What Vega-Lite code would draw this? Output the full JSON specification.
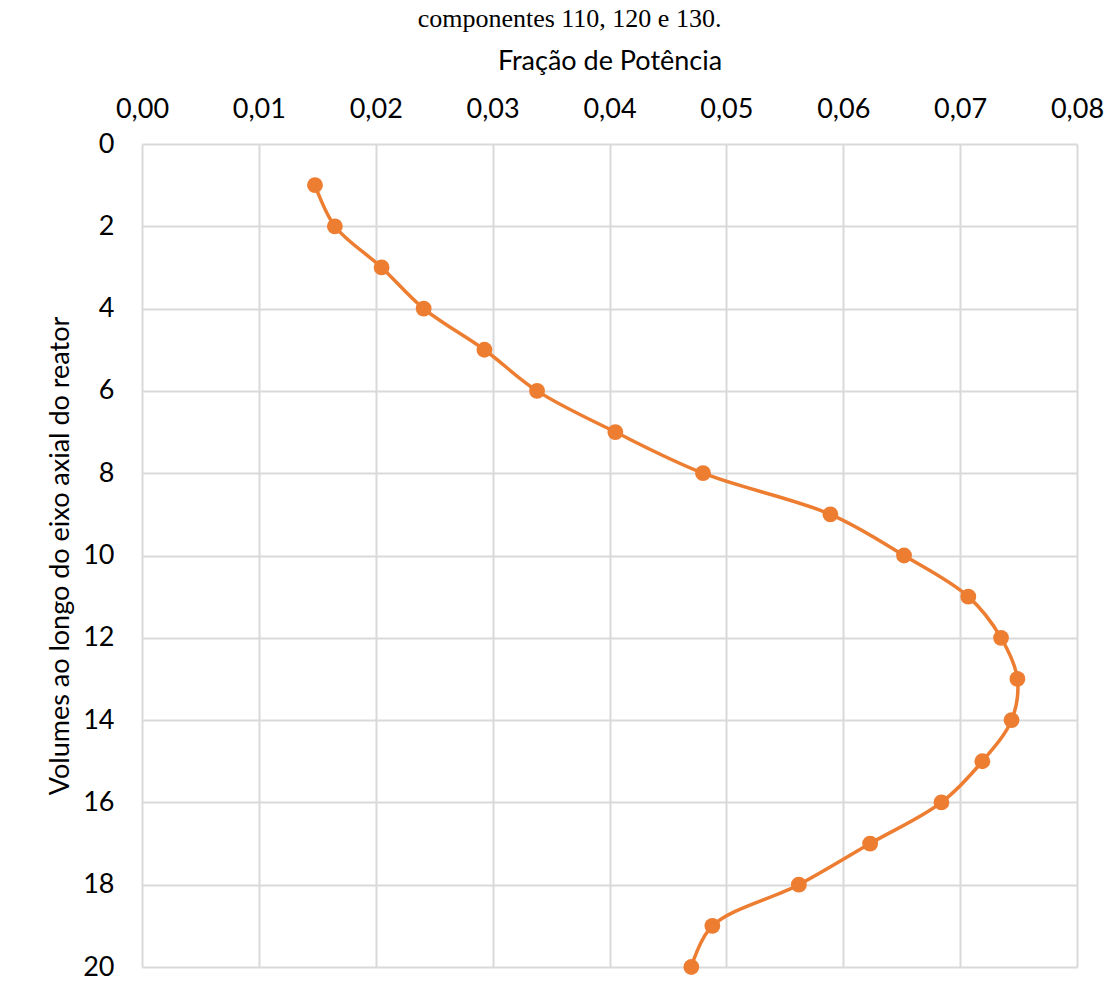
{
  "$schema": "https://vega.github.io/schema/vega-lite/v6.json",
  "autosize": {"type": "none"},
  "width": 935,
  "height": 823,
  "padding": {"left": 142, "top": 144, "right": 42, "bottom": 25},
  "background": "white",
  "title": {"text": "componentes 110, 120 e 130.", "font": "Liberation Serif", "fontSize": 26, "fontWeight": "normal", "color": "black", "anchor": "middle", "dy": -11, "dx": -40},
  "config": {"view": {"stroke": null}, "font": "Lato"},
  "data": {"values": [
    {"vol": 1, "frac": 0.0148},
    {"vol": 2, "frac": 0.0165},
    {"vol": 3, "frac": 0.0205},
    {"vol": 4, "frac": 0.0241},
    {"vol": 5, "frac": 0.0293},
    {"vol": 6, "frac": 0.0338},
    {"vol": 7, "frac": 0.0405},
    {"vol": 8, "frac": 0.0480},
    {"vol": 9, "frac": 0.0589},
    {"vol": 10, "frac": 0.0652},
    {"vol": 11, "frac": 0.0707},
    {"vol": 12, "frac": 0.0735},
    {"vol": 13, "frac": 0.0749},
    {"vol": 14, "frac": 0.0744},
    {"vol": 15, "frac": 0.0719},
    {"vol": 16, "frac": 0.0684},
    {"vol": 17, "frac": 0.0623},
    {"vol": 18, "frac": 0.0562},
    {"vol": 19, "frac": 0.0488},
    {"vol": 20, "frac": 0.0470}
  ]},
  "encoding": {
    "x": {"field": "frac", "type": "quantitative",
      "scale": {"domain": [0, 0.08], "nice": false, "zero": false},
      "axis": {"orient": "top", "title": "Fração de Potência", "values": [0, 0.01, 0.02, 0.03, 0.04, 0.05, 0.06, 0.07, 0.08],
        "labelExpr": "replace(format(datum.value, '.2f'), '.', ',')",
        "labelFontSize": 27, "titleFontSize": 27, "labelFont": "Lato", "titleFont": "Lato", "titleFontWeight": "normal",
        "labelColor": "black", "titleColor": "black", "ticks": false, "domain": false,
        "gridColor": "#d9d9d9", "gridWidth": 2, "labelPadding": 21, "titlePadding": 20, "labelFlush": false}},
    "y": {"field": "vol", "type": "quantitative",
      "scale": {"domain": [0, 20], "reverse": true, "nice": false},
      "axis": {"title": "Volumes ao longo do eixo axial do reator", "values": [0, 2, 4, 6, 8, 10, 12, 14, 16, 18, 20],
        "labelFontSize": 27, "titleFontSize": 27, "labelFont": "Lato", "titleFont": "Lato", "titleFontWeight": "normal",
        "labelColor": "black", "titleColor": "black", "ticks": false, "domain": false,
        "gridColor": "#d9d9d9", "gridWidth": 2, "labelPadding": 28, "titlePadding": 8}}
  },
  "layer": [
    {"mark": {"type": "line", "color": "#ED7D31", "strokeWidth": 3.5, "interpolate": "catmull-rom"},
     "encoding": {"order": {"field": "vol", "type": "quantitative"}}},
    {"mark": {"type": "point", "filled": true, "color": "#ED7D31", "size": 250, "opacity": 1}}
  ]
}
